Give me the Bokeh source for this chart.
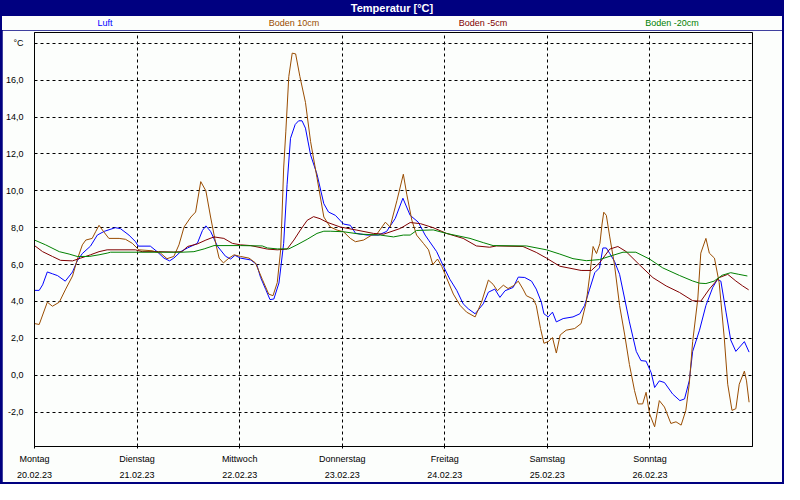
from bokeh.plotting import figure
from bokeh.models import Range1d, FixedTicker, Div
from bokeh.layouts import column
from bokeh.embed import file_html
from bokeh.resources import INLINE

FONT = "Liberation Sans"
BG = "#FCFEFC"
NAVY = "#000080"

title_text = "Temperatur [°C]"
series_names = ["Luft", "Boden 10cm", "Boden -5cm", "Boden -20cm"]
series_colors = ["#0000FF", "#994C00", "#800000", "#008000"]

days = ["Montag", "Dienstag", "Mittwoch", "Donnerstag", "Freitag", "Samstag", "Sonntag"]
dates = ["20.02.23", "21.02.23", "22.02.23", "23.02.23", "24.02.23", "25.02.23", "26.02.23"]
day_hours = [0, 24, 48, 72, 96, 120, 144]
y_ticks = [-2, 0, 2, 4, 6, 8, 10, 12, 14, 16, 18]
y_unit = "°C"

# hours since Monday 00:00
luft_h = [0, 1.1, 1.9, 3.0, 4.2, 5.4, 7.2, 8.9, 10.0, 11.2, 13.1, 14.7, 16.3, 18.9, 20.1, 22.1,
          23.6, 24.3, 27.1, 28.7, 30.3, 31.6, 32.6, 34.2, 35.8, 38.1, 39.3, 40.1, 41.2, 42.8,
          44.7, 45.9, 46.9, 48.2, 50.6, 52.0, 52.9, 54.1, 55.1, 56.0, 57.2, 58.3, 59.1, 59.9,
          61.0, 61.8, 62.6, 63.4, 64.6, 66.1, 67.7, 68.8, 70.4, 72.3, 73.9, 75.1, 77.8, 80.5,
          82.4, 84.4, 86.2, 87.9, 89.8, 91.4, 92.2, 94.1, 95.7, 97.2, 98.8, 100.3, 101.5, 103.1,
          105.0, 106.2, 107.7, 108.9, 110.1, 112.0, 113.2, 114.7, 116.3, 117.4, 118.6, 119.2,
          120.2, 121.2, 122.1, 123.7, 126.0, 127.6, 128.7, 129.9, 131.1, 132.2, 133.0, 133.8,
          134.6, 135.7, 136.9, 138.1, 139.2, 140.8, 141.9, 143.1, 144.3, 145.1, 146.2, 147.4,
          149.3, 151.0, 152.1, 153.2, 154.0, 155.6, 157.1, 158.7, 159.8, 160.6, 161.8, 162.9,
          164.1, 166.1, 167.2]
luft_t = [4.6, 4.6, 4.9, 5.6, 5.5, 5.4, 5.1, 5.6, 6.2, 6.6, 7.0, 7.6, 7.8, 8.0, 7.95, 7.6,
          7.25, 7.0, 7.0, 6.7, 6.35, 6.2, 6.35, 6.7, 6.9, 7.15, 7.85, 8.1, 7.8, 7.0,
          6.45, 6.3, 6.5, 6.35, 6.25, 6.0, 5.3, 4.65, 4.1, 4.13, 5.0, 7.15, 10.35, 12.85,
          13.6, 13.8, 13.8, 13.4, 11.95, 10.9, 9.3, 8.85, 8.67, 8.2, 8.13, 7.7, 7.6, 7.6,
          7.8, 8.5, 9.6, 8.67, 8.3, 7.6, 7.33, 6.7, 5.9, 5.2, 4.6, 3.87, 3.6, 3.33,
          3.87, 4.5, 4.67, 4.22, 4.58, 4.76, 5.32, 5.3, 5.1, 4.67, 3.96, 3.33,
          3.16, 3.42, 2.89, 3.07, 3.16, 3.33, 3.78, 4.67, 5.56, 5.82, 6.9, 6.9,
          6.6, 6.18, 5.47, 4.13, 2.89, 1.29, 0.79, 0.76, 0.13, -0.67, -0.31, -0.4,
          -1.02, -1.38, -1.29, -0.31, 1.29, 2.44, 3.78, 4.76, 5.2, 5.1, 3.42, 1.91,
          1.29, 1.82, 1.25]

b10_h = [0, 1.1, 3.0, 4.2, 5.8, 7.3, 8.9, 10.0, 11.2, 12.0, 13.5, 14.3, 15.1, 15.9, 17.4, 19.8,
         21.3, 22.9, 24.4, 27.5, 29.5, 31.0, 32.6, 33.8, 35.0, 36.6, 37.7, 38.9, 40.1, 41.2,
         42.4, 43.2, 44.2, 45.5, 46.7, 48.2, 50.2, 51.7, 53.3, 54.8, 55.8, 56.8, 57.6, 57.9,
         58.3, 58.8, 59.5, 60.3, 61.1, 62.1, 63.4, 64.6, 66.1, 67.7, 69.2, 70.8, 72.3, 73.9,
         75.1, 77.0, 78.9, 80.1, 82.1, 83.2, 84.8, 86.3, 87.1, 88.3, 89.4, 91.0, 92.2, 93.2,
         94.3, 95.3, 96.4, 98.0, 99.6, 101.1, 103.1, 104.6, 106.2, 107.3, 108.3, 109.7, 110.8,
         112.0, 113.2, 114.3, 115.1, 116.7, 117.4, 118.4, 119.2, 120.2, 121.2, 122.1, 123.0,
         124.4, 126.4, 127.9, 129.1, 129.9, 130.7, 131.5, 132.3, 132.8, 133.2, 133.8, 134.6,
         135.7, 136.9, 138.1, 139.2, 140.4, 141.2, 142.3, 143.1, 143.9, 145.1, 146.2, 147.4,
         148.9, 150.1, 151.3, 152.4, 153.2, 154.0, 155.2, 155.9, 157.1, 157.9, 159.1, 160.2,
         161.4, 162.2, 163.2, 164.1, 164.9, 166.1, 166.6, 167.2]
b10_t = [2.8, 2.75, 3.96, 3.74, 3.96, 4.67, 5.38, 6.27, 7.07, 7.33, 7.42, 7.78, 8.13, 7.87, 7.42, 7.42,
         7.37, 7.15, 6.8, 6.75, 6.62, 6.32, 6.44, 7.07, 8.04, 8.58, 8.85, 10.5, 10.0, 8.58,
         7.15, 6.35, 6.09, 6.35, 6.53, 6.44, 6.35, 6.09, 5.2, 4.4, 4.31, 5.02, 6.8, 8.58,
         11.24, 13.2, 16.2, 17.47, 17.43, 16.2, 14.8, 12.67, 10.71, 8.58, 8.04, 7.87, 7.78, 7.42,
         7.24, 7.33, 7.6, 7.65, 8.3, 8.04, 9.47, 10.9, 9.82, 8.4, 7.6, 7.15, 6.8, 6.0,
         6.3, 5.9, 5.29, 4.4, 3.78, 3.42, 3.16, 3.96, 5.16, 4.93, 4.58, 4.88, 4.7,
         4.84, 5.1, 4.67, 4.31, 4.13, 3.78, 2.53, 1.73, 1.82, 2.04, 1.2, 2.18,
         2.44, 2.53, 2.8, 3.96, 5.38, 6.98, 6.6, 7.15, 8.2, 8.84, 8.67, 7.5,
         6.0, 3.78, 2.18, 0.58, -0.84, -1.56, -1.56, -0.93, -2.09, -2.8, -1.38, -1.73,
         -2.62, -2.53, -2.71, -1.91, -0.49, 1.82, 4.13, 6.62, 7.42, 6.62, 6.35, 5.02,
         2.0, -0.49, -1.91, -1.82, -0.49, 0.22, -0.31, -1.47]

b5_h = [0, 1.9, 4.2, 6.1, 8.9, 10.8, 13.1, 15.1, 17.0, 23.6, 25.2, 29.0, 32.6, 34.5, 35.8, 38.1,
        40.1, 42.0, 44.3, 46.3, 48.2, 50.6, 54.5, 56.8, 59.1, 60.7, 62.2, 63.8, 65.3, 66.8,
        68.4, 71.5, 75.4, 79.3, 81.7, 85.6, 87.9, 90.3, 93.3, 96.4, 100.3, 103.4, 106.5, 108.1,
        114.3, 117.4, 119.8, 122.9, 126.0, 127.9, 130.3, 132.2, 134.6, 136.5, 138.4, 141.5,
        144.7, 147.8, 150.9, 154.0, 155.9, 157.9, 160.2, 162.2, 164.1, 165.7, 167.1]
b5_t = [7.03, 6.7, 6.44, 6.23, 6.2, 6.35, 6.53, 6.7, 6.8, 6.8, 6.7, 6.7, 6.68, 6.7, 6.98, 7.12,
        7.33, 7.5, 7.42, 7.15, 7.07, 7.03, 6.84, 6.8, 6.84, 7.33, 7.87, 8.4, 8.6, 8.49,
        8.3, 8.04, 7.87, 7.69, 7.65, 7.96, 8.28, 8.22, 8.0, 7.69, 7.42, 7.01, 6.94, 7.01,
        6.98, 6.66, 6.35, 5.91, 5.77, 5.68, 5.68, 6.09, 6.84, 6.98, 6.71, 6.0,
        5.29, 4.84, 4.49, 4.04, 4.01, 4.67, 5.29, 5.47, 5.11, 4.84, 4.63]

b20_h = [0, 2.6, 5.8, 8.1, 10.0, 12.8, 15.1, 17.0, 17.8, 34.5, 37.3, 39.7, 42.0, 48.2, 53.3, 54.5,
         56.8, 59.5, 61.4, 63.8, 66.1, 67.7, 69.2, 72.3, 76.2, 80.9, 84.0, 86.3, 87.9, 89.4,
         93.3, 96.4, 101.9, 105.0, 107.3, 115.1, 119.8, 122.9, 126.0, 129.1, 132.2, 135.3,
         137.7, 140.7, 143.9, 147.0, 150.9, 154.0, 155.6, 157.1, 159.0, 160.9, 162.9, 164.8, 166.8]
b20_t = [7.33, 7.07, 6.7, 6.57, 6.44, 6.44, 6.53, 6.62, 6.67, 6.67, 6.7, 6.85, 7.03, 7.03, 7.01, 6.9,
         6.85, 6.85, 7.07, 7.37, 7.69, 7.81, 7.81, 7.78, 7.65, 7.6, 7.5, 7.6, 7.6, 7.85,
         7.88, 7.69, 7.42, 7.19, 7.03, 7.01, 6.8, 6.57, 6.32, 6.21, 6.27, 6.5,
         6.67, 6.67, 6.3, 5.82, 5.41, 5.11, 4.99, 4.97, 5.1, 5.42, 5.56, 5.47, 5.38]

series_h = [luft_h, b10_h, b5_h, b20_h]
series_t = [luft_t, b10_t, b5_t, b20_t]

W = 780  # inner width; 2px navy frame on each side -> 784

title_div = Div(
    text=title_text, width=W, height=16, margin=(0, 2, 0, 2),
    styles={"background-color": NAVY, "color": "white", "font-family": FONT,
            "font-weight": "bold", "font-size": "11px", "text-align": "center",
            "line-height": "16px"},
)

spans = "".join(
    f'<span style="position:absolute;left:{103 + 189 * i}px;top:0px;transform:translateX(-50%);'
    f'color:{c};white-space:nowrap">{n}</span>'
    for i, (n, c) in enumerate(zip(series_names, series_colors))
)
legend_div = Div(
    text=f'<div style="position:relative;width:{W}px;height:14px;line-height:14px;'
         f'font-family:{FONT};font-size:9px">{spans}</div>',
    width=W, height=14, margin=(0, 2, 0, 2), styles={"background-color": BG},
)

p = figure(width=W, height=452, x_range=Range1d(0, 168), y_range=Range1d(-3.87, 18.59),
           output_backend="svg", toolbar_location=None, margin=(0, 2, 2, 2),
           min_border_left=30, min_border_right=30, min_border_top=2, min_border_bottom=34,
           background_fill_color=BG, border_fill_color=BG)
p.outline_line_color = "black"
p.outline_line_width = 1

p.xaxis.ticker = FixedTicker(ticks=day_hours)
p.xaxis.major_label_overrides = {h: f"{d}\n{dt}" for h, d, dt in zip(day_hours, days, dates)}
p.yaxis.ticker = FixedTicker(ticks=y_ticks)
p.yaxis.major_label_overrides = {
    t: (y_unit if t == y_ticks[-1] else f"{t:.1f}".replace(".", ",")) for t in y_ticks
}
for ax in (p.xaxis, p.yaxis):
    ax.axis_line_color = "black"
    ax.minor_tick_line_color = None
    ax.major_label_text_font = FONT
    ax.major_label_text_font_size = "9px"
    ax.major_label_text_color = "black"
p.yaxis.major_tick_line_color = None
p.yaxis.major_label_standoff = 5
p.xaxis.major_tick_line_color = "black"
p.xaxis.major_tick_in = 0
p.xaxis.major_tick_out = 2
p.xaxis.major_label_standoff = 5
p.xaxis.major_label_text_line_height = 1.6

for g in (p.xgrid, p.ygrid):
    g.grid_line_color = "black"
    g.grid_line_dash = "3 3"
    g.grid_line_width = 1

for h, t, c in zip(series_h, series_t, series_colors):
    p.line(h, t, line_color=c, line_width=1)

layout = column(title_div, legend_div, p, spacing=0, margin=0,
                styles={"background-color": NAVY})

open("out.html", "w").write(file_html(layout, INLINE))
